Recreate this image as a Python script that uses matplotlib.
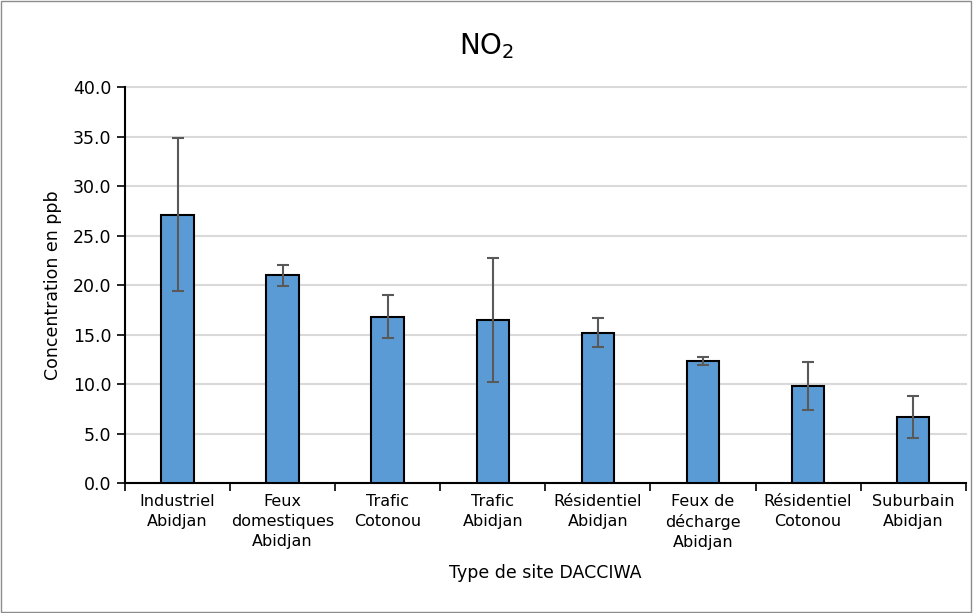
"""
NO2 concentrations by DACCIWA site type, bar chart with error bars.
"""

import matplotlib
matplotlib.use("Agg")
import matplotlib.pyplot as plt
import matplotlib.patches as patches
import numpy as np

sites = ["Industriel\nAbidjan", "Feux\ndomestiques\nAbidjan", "Trafic\nCotonou",
         "Trafic\nAbidjan", "Résidentiel\nAbidjan", "Feux de\ndécharge\nAbidjan",
         "Résidentiel\nCotonou", "Suburbain\nAbidjan"]
no2_mean = [27.1, 21.0, 16.8, 16.5, 15.2, 12.3, 9.8, 6.7]
no2_err = [7.75, 1.05, 2.15, 6.25, 1.5, 0.4, 2.4, 2.1]
y_ticks = [0, 5, 10, 15, 20, 25, 30, 35, 40]

plt.rcParams['font.family'] = ['DejaVu Sans']

fig = plt.figure(figsize=(9.73, 6.13), dpi=100)
ax = fig.add_axes([0.1285, 0.212, 0.864, 0.646])

x = np.arange(len(sites))
ax.bar(x, no2_mean, width=0.31, color='#5B9BD5', edgecolor='black', linewidth=1.5,
       yerr=no2_err, capsize=4,
       error_kw=dict(ecolor='#595959', elinewidth=1.5, capthick=1.5), zorder=3)

ax.set_xlim(-0.5, len(sites) - 0.5)
ax.set_ylim(0, 40)
ax.set_yticks(y_ticks)
ax.set_yticklabels([f"{v:.1f}" for v in y_ticks], fontsize=12.5)
ax.yaxis.grid(True, color='#d9d9d9', linewidth=1.5, zorder=0)
for gl in ax.get_ygridlines():
    gl.set_clip_on(False)
ax.tick_params(axis='y', length=6, width=1.2, pad=4)

# category labels in the middle, tick marks between categories
ax.set_xticks(x)
ax.set_xticklabels(sites, fontsize=11.5, linespacing=1.4)
ax.tick_params(axis='x', which='major', length=0, pad=8)
ax.set_xticks(np.arange(len(sites) + 1) - 0.5, minor=True)
ax.tick_params(axis='x', which='minor', length=6, width=1.2)

for side in ['top', 'right']:
    ax.spines[side].set_visible(False)
for side in ['left', 'bottom']:
    ax.spines[side].set_linewidth(1.5)

ax.set_ylabel("Concentration en ppb", fontsize=12.5, labelpad=8)
ax.set_xlabel("Type de site DACCIWA", fontsize=12.5, labelpad=10)
fig.text(0.5, 0.925, "NO$_2$", ha='center', va='center', fontsize=20)

# thin frame round the whole chart
fig.patches.append(patches.Rectangle((0.001, 0.002), 0.997, 0.996, transform=fig.transFigure,
                                     fill=False, edgecolor='#8c8c8c', linewidth=1))

fig.savefig("out.png", dpi=100)
